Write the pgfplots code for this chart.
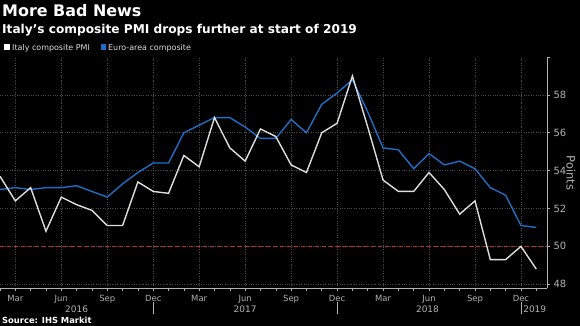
\documentclass[border=0pt]{standalone}
\usepackage{fontspec}
\setmainfont{DejaVu Sans}
\usepackage{pgfplots}
\usepackage{pgfplotstable}
\pgfplotsset{compat=1.18}
\definecolor{bbblue}{RGB}{33,110,198}
\definecolor{ital}{RGB}{222,222,222}
\definecolor{refred}{RGB}{200,35,55}
\definecolor{gridc}{RGB}{75,75,75}
\definecolor{tickc}{RGB}{178,178,178}

\pgfplotstableread{
m italy euro
1 53.7 53.0
2 52.4 53.1
3 53.1 53.0
4 50.8 53.1
5 52.6 53.1
6 52.2 53.2
7 51.9 52.9
8 51.1 52.6
9 51.1 53.3
10 53.4 53.9
11 52.9 54.4
12 52.8 54.4
13 54.8 56.0
14 54.2 56.4
15 56.8 56.8
16 55.2 56.8
17 54.5 56.3
18 56.2 55.7
19 55.8 55.7
20 54.3 56.7
21 53.9 56.0
22 56.0 57.5
23 56.5 58.1
24 59.0 58.8
25 56.3 57.1
26 53.5 55.2
27 52.9 55.1
28 52.9 54.1
29 53.9 54.9
30 53.0 54.3
31 51.7 54.5
32 52.4 54.1
33 49.3 53.1
34 49.3 52.7
35 50.0 51.1
36 48.8 51.0
}\pmi

\begin{document}
\begin{tikzpicture}
\fill[black] (0bp,0bp) rectangle (580bp,326bp);
\useasboundingbox (0bp,0bp) rectangle (580bp,326bp);

\node[anchor=base west, text=white, inner sep=0, font=\bfseries\fontsize{16}{16}\selectfont] at (2bp,309.3bp) {More Bad News};
\node[anchor=base west, text=white, inner sep=0, font=\bfseries\fontsize{12.2}{12.2}\selectfont] at (2bp,292.7bp) {Italy's composite PMI drops further at start of 2019};

\fill[white] (4.3bp,276bp) rectangle (10bp,281.7bp);
\node[anchor=base west, text=ital, inner sep=0, font=\fontsize{8}{8}\selectfont] at (12bp,275bp) {Italy composite PMI};
\fill[bbblue] (100.7bp,276bp) rectangle (106.4bp,281.7bp);
\node[anchor=base west, text=ital, inner sep=0, font=\fontsize{8}{8}\selectfont] at (108bp,275bp) {Euro-area composite};

\node[anchor=base west, text=white, inner sep=0, font=\bfseries\fontsize{8.4}{8.4}\selectfont] at (2bp,3bp) {Source: IHS Markit};

\node[rotate=-90, text=tickc, inner sep=0, font=\fontsize{11.5}{11.5}\selectfont] at (571bp,153bp) {Points};

\begin{axis}[
  at={(0bp,38bp)}, anchor=south west,
  scale only axis, width=547bp, height=231bp,
  xmin=1, xmax=36.7, ymin=47.8, ymax=60,
  axis x line=bottom, axis y line=right,
  axis line style={-, draw=tickc, line width=0.8pt},
  tick align=outside,
  major tick length=3bp, minor tick length=3bp,
  tick style={draw=tickc, line width=0.6pt},
  xtick={2,5,8,11,14,17,20,23,26,29,32,35},
  xticklabels={Mar,Jun,Sep,Dec,Mar,Jun,Sep,Dec,Mar,Jun,Sep,Dec},
  minor xtick={1,...,36},
  ytick={48,50,52,54,56,58},
  extra y ticks={60}, extra y tick labels={},
  extra y tick style={grid=none},
  grid=major,
  major grid style={draw=gridc, dotted, line width=0.7pt},
  /pgf/number format/assume math mode=true,
  xticklabel style={text=tickc, font=\fontsize{8.5}{8.5}\selectfont, yshift=-1bp},
  yticklabel style={text=tickc, font=\fontsize{10}{10}\selectfont},
  clip=false,
]
\addplot[refred, line width=1pt, dash pattern=on 4bp off 3bp] coordinates {(1,50) (36.7,50)};
\addplot[bbblue, line width=1.4pt] table[x=m, y=euro] {\pmi};
\addplot[ital, line width=1.4pt] table[x=m, y=italy] {\pmi};

\node[text=tickc, font=\fontsize{9}{9}\selectfont] at (axis cs:6,47.8) [yshift=-21bp] {2016};
\node[text=tickc, font=\fontsize{9}{9}\selectfont] at (axis cs:17,47.8) [yshift=-21bp] {2017};
\node[text=tickc, font=\fontsize{9}{9}\selectfont] at (axis cs:28.9,47.8) [yshift=-21bp] {2018};
\node[text=tickc, font=\fontsize{9}{9}\selectfont] at (axis cs:35.9,47.8) [yshift=-21bp] {2019};
\draw[tickc, line width=0.6pt] (axis cs:11,47.8) ++(0bp,-14bp) -- ++(0bp,-12bp);
\draw[tickc, line width=0.6pt] (axis cs:23,47.8) ++(0bp,-14bp) -- ++(0bp,-12bp);
\draw[tickc, line width=0.6pt] (axis cs:35,47.8) ++(0bp,-14bp) -- ++(0bp,-12bp);
\end{axis}
\end{tikzpicture}
\end{document}
